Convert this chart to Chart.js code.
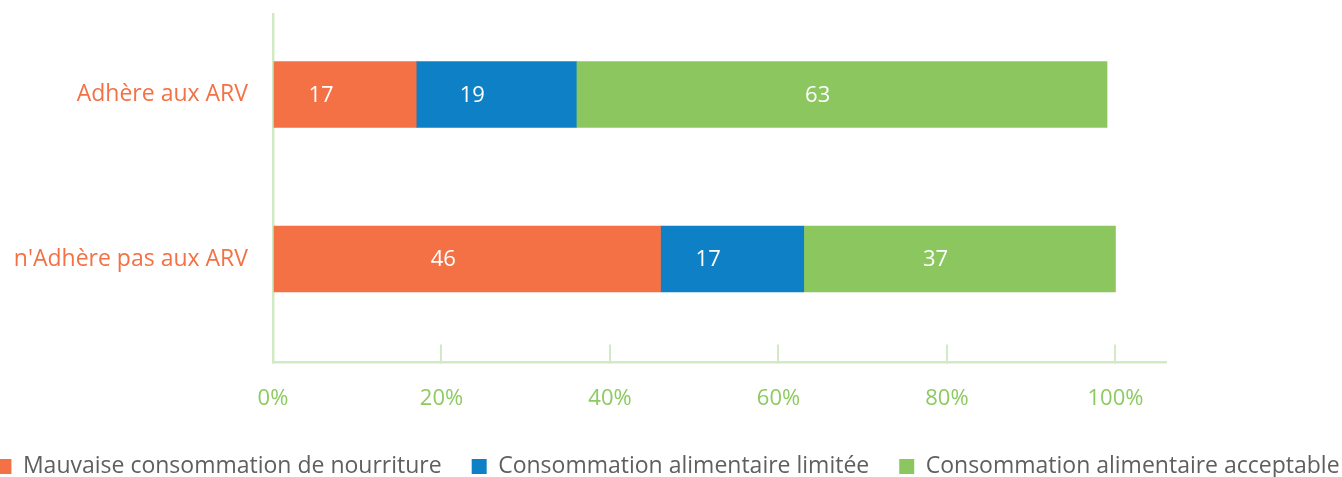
<!DOCTYPE html>
<html lang="fr">
<head>
<meta charset="utf-8">
<title>Consommation alimentaire et adhérence aux ARV</title>
<script src="https://cdn.jsdelivr.net/npm/chart.js@4.4.1/dist/chart.umd.min.js"></script>
<style>
  html, body { margin: 0; padding: 0; background: #fff; overflow: hidden; }
  canvas { display: block; }
</style>
</head>
<body>
<canvas id="arvChart" width="1342" height="477"></canvas>
<script>
// Categories (one horizontal bar each, top to bottom)
const categories = ['Adhère aux ARV', "n'Adhère pas aux ARV"];

// Series, in percent
const seriesNames = [
  'Mauvaise consommation de nourriture',
  'Consommation alimentaire limitée',
  'Consommation alimentaire acceptable'
];
const poorFood = [17, 46];
const limitedFood = [19, 17];
const acceptableFood = [63, 37];

// Value axis ticks
const percentTicks = [0, 20, 40, 60, 80, 100];

const colors = ['#f37144', '#0e80c5', '#8bc75e'];
const axisLine = '#d3e9c4';
const tickGreen = '#8dca61';
const FONT = '"Open Sans", "Noto Sans", sans-serif';

// white value labels inside each segment
const barLabels = {
  id: 'barLabels',
  afterDatasetsDraw(chart) {
    const ctx = chart.ctx;
    ctx.save();
    ctx.font = '22px ' + FONT;
    ctx.fillStyle = '#ffffff';
    ctx.textAlign = 'center';
    ctx.textBaseline = 'middle';
    chart.data.datasets.forEach((ds, i) => {
      chart.getDatasetMeta(i).data.forEach((bar, j) => {
        const { x, y, base } = bar.getProps(['x', 'y', 'base'], true);
        ctx.fillText(String(ds.data[j].x), (x + base) / 2 - 24, y + 1);
      });
    });
    ctx.restore();
  }
};

function makeSeries(values) {
  return values.map((v, i) => ({ x: v, y: i }));
}

// keep tick labels from pushing the plot area around
function noEdgePadding(s) {
  s.paddingTop = 0;
  s.paddingBottom = 0;
  s.paddingLeft = 0;
  s.paddingRight = 0;
}

function draw() {
  const ctx = document.getElementById('arvChart').getContext('2d');
  new Chart(ctx, {
    type: 'bar',
    data: {
      datasets: [poorFood, limitedFood, acceptableFood].map((vals, i) => ({
        label: seriesNames[i],
        data: makeSeries(vals),
        backgroundColor: colors[i],
        borderWidth: 0,
        barThickness: 66
      }))
    },
    options: {
      indexAxis: 'y',
      responsive: false,
      animation: false,
      layout: { padding: { left: -43, right: -37, top: 14, bottom: -11 } },
      plugins: {
        tooltip: { enabled: false },
        legend: {
          position: 'bottom',
          labels: {
            boxWidth: 15,
            boxHeight: 15,
            padding: 30,
            color: '#5f5f5f',
            font: { family: FONT, size: 23 }
          }
        }
      },
      scales: {
        x: {
          type: 'linear',
          stacked: true,
          min: 0,
          max: 106,
          afterBuildTicks: (s) => { s.ticks = percentTicks.map(v => ({ value: v })); },
          afterFit: (s) => { s.height = 62.5; noEdgePadding(s); },
          ticks: {
            color: tickGreen,
            padding: 41,
            font: { family: FONT, size: 22 },
            callback: (v) => v + '%'
          },
          grid: {
            display: true,
            drawOnChartArea: false,
            drawTicks: true,
            tickLength: -18,
            color: axisLine,
            lineWidth: 2
          },
          border: { display: true, color: axisLine, width: 2.5 }
        },
        y: {
          type: 'linear',
          stacked: true,
          reverse: true,
          offset: false,
          min: -0.489,
          max: 1.629,
          afterBuildTicks: (s) => { s.ticks = categories.map((c, i) => ({ value: i })); },
          afterFit: (s) => { s.width = 316; noEdgePadding(s); },
          ticks: {
            color: '#f37144',
            padding: 25,
            font: { family: FONT, size: 23 },
            callback: (v) => categories[v]
          },
          grid: { display: false, drawTicks: false },
          border: { display: true, color: axisLine, width: 2.5 }
        },
        // empty right-hand axis that keeps the plot clear of the right edge
        yRight: {
          type: 'linear',
          position: 'right',
          display: true,
          ticks: { display: false },
          grid: { display: false },
          border: { display: false },
          afterFit: (s) => { s.width = 213; noEdgePadding(s); }
        }
      }
    },
    plugins: [barLabels]
  });
}

if (document.fonts && document.fonts.load) {
  Promise.all([
    document.fonts.load('22px "Open Sans"'),
    document.fonts.load('23px "Open Sans"')
  ]).then(draw, draw);
} else {
  draw();
}
</script>
</body>
</html>
